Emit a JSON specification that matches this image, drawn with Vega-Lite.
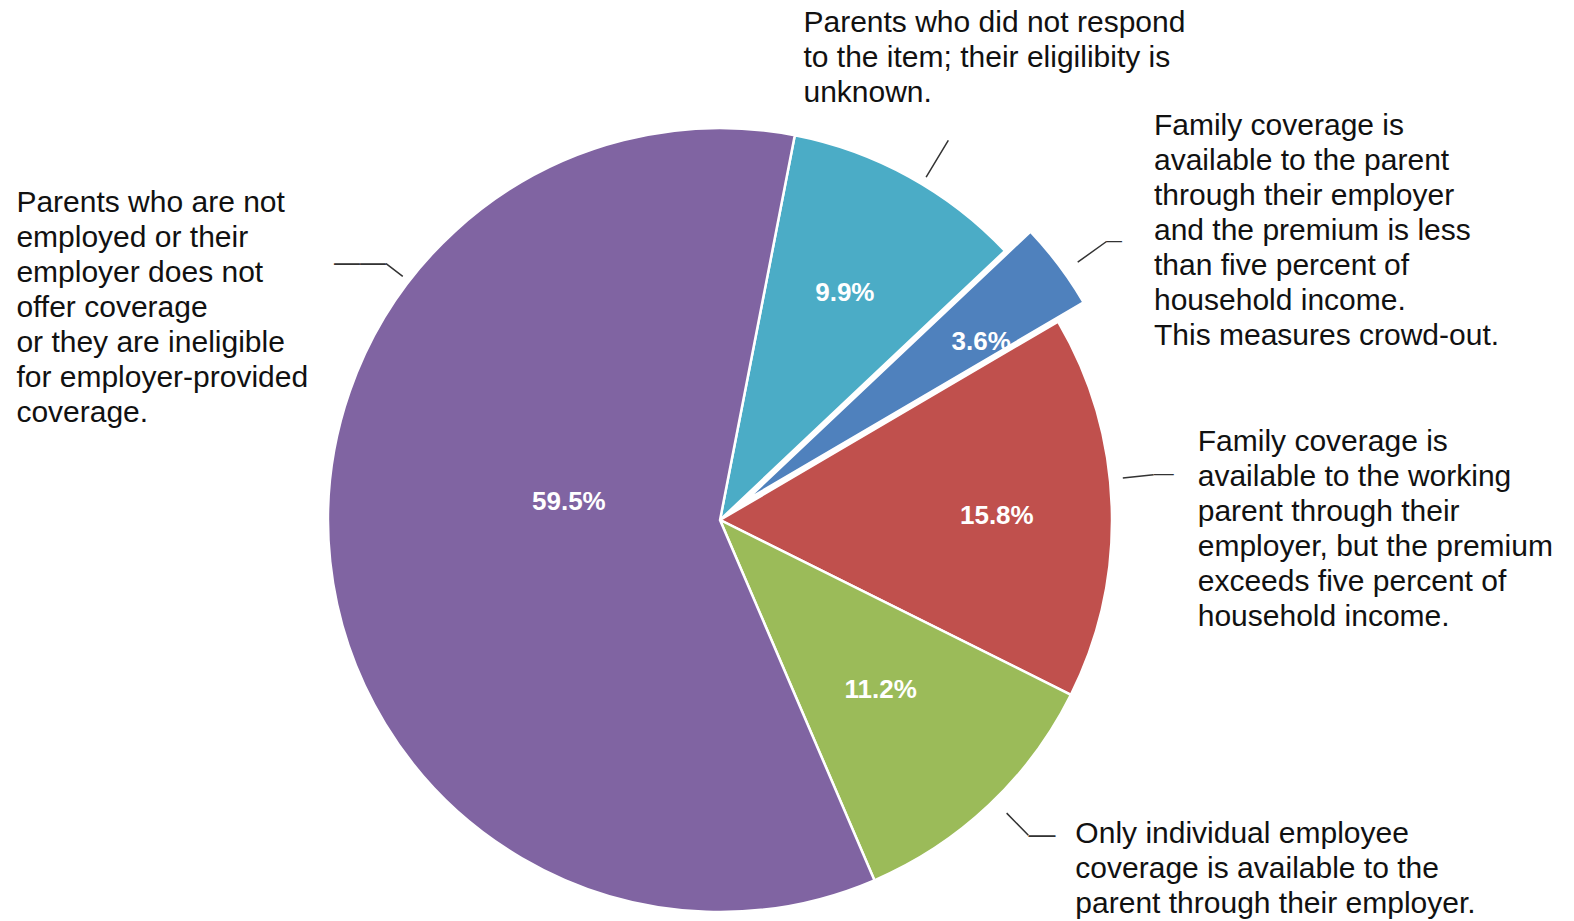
{
  "$schema": "https://vega.github.io/schema/vega-lite/v6.json",
  "width": 1440,
  "height": 802,
  "autosize": "none",
  "padding": {"left": 0, "top": 119, "right": 134, "bottom": 0},
  "background": "white",
  "config": {"view": {"stroke": null}, "text": {"font": "Liberation Sans"}},
  "data": {
    "values": [
      {"key": "teal", "ord": 1, "pct": 9.9, "pctText": "9.9%", "label": "Parents who did not respond\nto the item; their eligilibity is\nunknown."},
      {"key": "blue", "ord": 2, "pct": 3.6, "pctText": "3.6%", "label": "Family coverage is\navailable to the parent\nthrough their employer\nand the premium is less\nthan five percent of\nhousehold income.\nThis measures crowd-out."},
      {"key": "red", "ord": 3, "pct": 15.8, "pctText": "15.8%", "label": "Family coverage is\navailable to the working\nparent through their\nemployer, but the premium\nexceeds five percent of\nhousehold income."},
      {"key": "green", "ord": 4, "pct": 11.2, "pctText": "11.2%", "label": "Only individual employee\ncoverage is available to the\nparent through their employer."},
      {"key": "purple", "ord": 5, "pct": 59.5, "pctText": "59.5%", "label": "Parents who are not\nemployed or their\nemployer does not\noffer coverage\nor they are ineligible\nfor employer-provided\ncoverage."}
    ]
  },
  "encoding": {
    "theta": {"field": "pct", "type": "quantitative", "stack": true, "scale": {"domain": [0, 100], "range": [0.19199, 6.47518]}},
    "order": {"field": "ord", "type": "quantitative"},
    "detail": {"field": "key", "type": "nominal"}
  },
  "layer": [
    {
      "mark": {"type": "arc", "outerRadius": 392, "stroke": "white", "strokeWidth": 2.5},
      "encoding": {
        "color": {"field": "key", "type": "nominal", "legend": null, "scale": {"domain": ["teal", "blue", "red", "green", "purple"], "range": ["#4BACC6", "#4F81BD", "#C0504D", "#9BBB59", "#8064A2"]}},
        "opacity": {"condition": {"test": "datum.key === 'blue'", "value": 0}, "value": 1}
      }
    },
    {
      "mark": {"type": "arc", "outerRadius": 392, "stroke": "white", "strokeWidth": 2.5, "xOffset": 25.5, "yOffset": -19.3},
      "encoding": {
        "color": {"field": "key", "type": "nominal", "legend": null, "scale": {"domain": ["teal", "blue", "red", "green", "purple"], "range": ["#4BACC6", "#4F81BD", "#C0504D", "#9BBB59", "#8064A2"]}},
        "opacity": {"condition": {"test": "datum.key === 'blue'", "value": 1}, "value": 0}
      }
    },
    {
      "mark": {"type": "arc", "innerRadius": 400, "outerRadius": 443, "padAngle": 3, "thetaOffset": 0.0384, "fillOpacity": 0, "stroke": "#333333", "strokeWidth": 1.5},
      "encoding": {"opacity": {"condition": {"test": "datum.key === 'teal'", "value": 1}, "value": 0}}
    },
    {
      "mark": {"type": "arc", "innerRadius": 409, "outerRadius": 444, "padAngle": 3, "thetaOffset": 0.021, "fillOpacity": 0, "stroke": "#333333", "strokeWidth": 1.5, "xOffset": 25.5, "yOffset": -19.3},
      "encoding": {"opacity": {"condition": {"test": "datum.key === 'blue'", "value": 1}, "value": 0}}
    },
    {
      "mark": {"type": "arc", "innerRadius": 405, "outerRadius": 436, "padAngle": 3, "thetaOffset": -0.0698, "fillOpacity": 0, "stroke": "#333333", "strokeWidth": 1.5},
      "encoding": {"opacity": {"condition": {"test": "datum.key === 'red'", "value": 1}, "value": 0}}
    },
    {
      "mark": {"type": "arc", "innerRadius": 410, "outerRadius": 441, "padAngle": 3, "thetaOffset": -0.0175, "fillOpacity": 0, "stroke": "#333333", "strokeWidth": 1.5},
      "encoding": {"opacity": {"condition": {"test": "datum.key === 'green'", "value": 1}, "value": 0}}
    },
    {
      "mark": {"type": "arc", "innerRadius": 400, "outerRadius": 421, "padAngle": 3, "thetaOffset": 4.8642, "fillOpacity": 0, "stroke": "#333333", "strokeWidth": 1.5},
      "encoding": {"opacity": {"condition": {"test": "datum.key === 'teal'", "value": 1}, "value": 0}}
    },
    {
      "mark": {"type": "text", "radius": 441, "dx": 33.3, "dy": -9.3, "align": "left", "baseline": "alphabetic", "fontSize": 16, "fill": "#333333"},
      "encoding": {"text": {"condition": {"test": "datum.key === 'blue'", "value": "—"}, "value": ""}}
    },
    {
      "mark": {"type": "text", "radius": 436, "dx": -2.1, "dy": -25, "align": "left", "baseline": "alphabetic", "fontSize": 20, "fill": "#333333"},
      "encoding": {"text": {"condition": {"test": "datum.key === 'red'", "value": "—"}, "value": ""}}
    },
    {
      "mark": {"type": "text", "radius": 441, "dx": 5.6, "dy": 2, "align": "left", "baseline": "alphabetic", "fontSize": 27, "fill": "#333333"},
      "encoding": {"text": {"condition": {"test": "datum.key === 'green'", "value": "—"}, "value": ""}}
    },
    {
      "mark": {"type": "text", "radius": 421, "dx": 84.6, "dy": -294, "align": "right", "baseline": "alphabetic", "fontSize": 26, "fill": "#333333"},
      "encoding": {"text": {"condition": {"test": "datum.key === 'purple'", "value": "——"}, "value": ""}}
    },
    {
      "mark": {"type": "text", "radius": 259, "align": "center", "baseline": "middle", "fontSize": 26, "fontWeight": "bold", "fill": "white"},
      "encoding": {"text": {"condition": {"test": "datum.key === 'teal'", "field": "pctText"}, "value": ""}}
    },
    {
      "mark": {"type": "text", "radius": 284, "dx": 34, "dy": -8, "align": "center", "baseline": "middle", "fontSize": 26, "fontWeight": "bold", "fill": "white"},
      "encoding": {"text": {"condition": {"test": "datum.key === 'blue'", "field": "pctText"}, "value": ""}}
    },
    {
      "mark": {"type": "text", "radius": 277, "dy": 5, "align": "center", "baseline": "middle", "fontSize": 26, "fontWeight": "bold", "fill": "white"},
      "encoding": {"text": {"condition": {"test": "datum.key === 'red'", "field": "pctText"}, "value": ""}}
    },
    {
      "mark": {"type": "text", "radius": 234, "align": "center", "baseline": "middle", "fontSize": 26, "fontWeight": "bold", "fill": "white"},
      "encoding": {"text": {"condition": {"test": "datum.key === 'green'", "field": "pctText"}, "value": ""}}
    },
    {
      "mark": {"type": "text", "radius": 152, "dy": -34, "align": "center", "baseline": "middle", "fontSize": 26, "fontWeight": "bold", "fill": "white"},
      "encoding": {"text": {"condition": {"test": "datum.key === 'purple'", "field": "pctText"}, "value": ""}}
    },
    {
      "mark": {"type": "text", "radius": 420, "dx": -119, "dy": -120, "align": "left", "baseline": "alphabetic", "fontSize": 30, "lineHeight": 35, "lineBreak": "\n", "fill": "#111111"},
      "encoding": {"text": {"condition": {"test": "datum.key === 'teal'", "field": "label"}, "value": ""}}
    },
    {
      "mark": {"type": "text", "radius": 420, "dx": 98, "dy": -133, "align": "left", "baseline": "alphabetic", "fontSize": 30, "lineHeight": 35, "lineBreak": "\n", "fill": "#111111"},
      "encoding": {"text": {"condition": {"test": "datum.key === 'blue'", "field": "label"}, "value": ""}}
    },
    {
      "mark": {"type": "text", "radius": 420, "dx": 58, "dy": -55, "align": "left", "baseline": "alphabetic", "fontSize": 30, "lineHeight": 35, "lineBreak": "\n", "fill": "#111111"},
      "encoding": {"text": {"condition": {"test": "datum.key === 'red'", "field": "label"}, "value": ""}}
    },
    {
      "mark": {"type": "text", "radius": 420, "dx": 67, "dy": 18, "align": "left", "baseline": "alphabetic", "fontSize": 30, "lineHeight": 35, "lineBreak": "\n", "fill": "#111111"},
      "encoding": {"text": {"condition": {"test": "datum.key === 'green'", "field": "label"}, "value": ""}}
    },
    {
      "mark": {"type": "text", "radius": 420, "dx": -286, "dy": -353, "align": "left", "baseline": "alphabetic", "fontSize": 30, "lineHeight": 35, "lineBreak": "\n", "fill": "#111111"},
      "encoding": {"text": {"condition": {"test": "datum.key === 'purple'", "field": "label"}, "value": ""}}
    }
  ]
}
